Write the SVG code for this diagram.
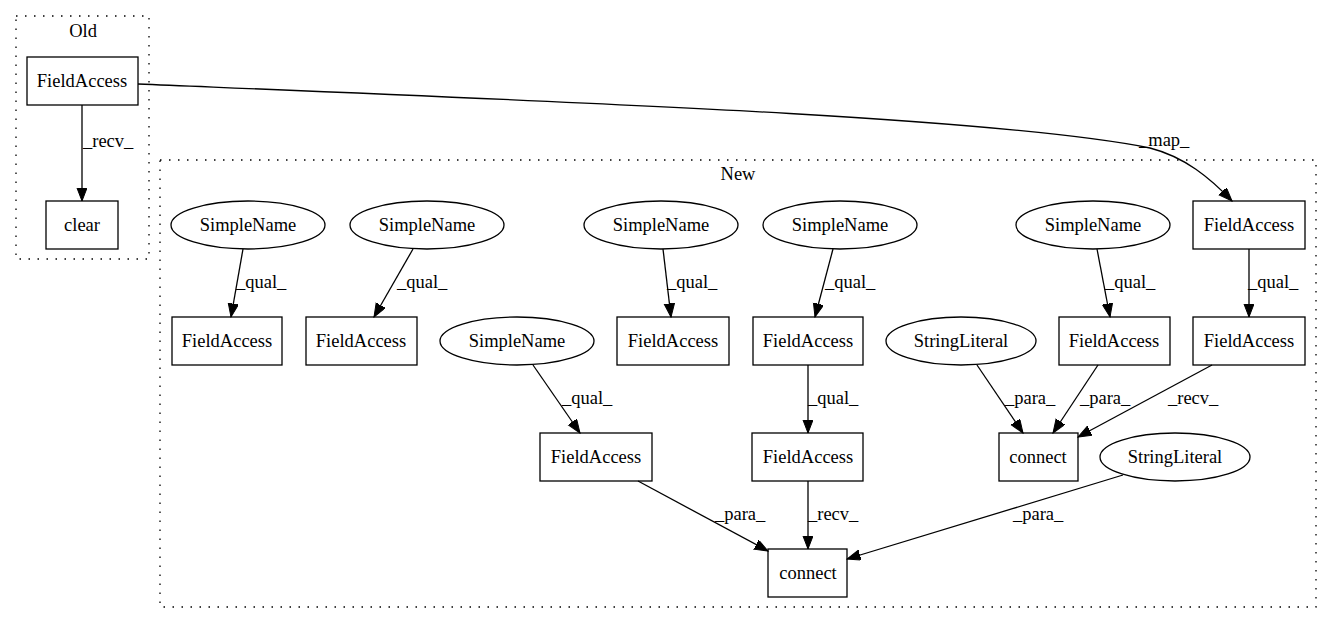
<svg xmlns="http://www.w3.org/2000/svg" width="1332" height="624" viewBox="0 0 1332 624">
<style>
text{font-family:"Liberation Serif","Times New Roman",serif;font-size:18.5px;fill:#000}
.n text{text-anchor:middle}
.n rect,.n ellipse{fill:none;stroke:#000;stroke-width:1.3}
.cl{fill:none;stroke:#000;stroke-width:1.3;stroke-dasharray:1.5,7.5}
.e path{fill:none;stroke:#000;stroke-width:1.3;marker-end:url(#ah)}
.lbl text{text-anchor:start}
</style>
<defs>
<marker id="ah" markerUnits="userSpaceOnUse" markerWidth="15" markerHeight="12" refX="13.5" refY="5.2" orient="auto">
<path d="M0,0 L13.5,5.2 L0,10.4 z" fill="#000" stroke="#000" stroke-width="1"/>
</marker>
</defs>
<rect width="1332" height="624" fill="#fff"/>
<g id="cluster_old">
<rect class="cl" x="16" y="16" width="133" height="243"/>
<text x="83" y="37" text-anchor="middle">Old</text>
</g>
<g id="cluster_new">
<rect class="cl" x="160" y="160" width="1156" height="447"/>
<text x="738" y="180" text-anchor="middle">New</text>
</g>
<g id="edges" class="e">
<path d="M82,105 L82,201"/>
<path d="M138,84 C600,103 1000,118 1150,148 C1185,157 1210,178 1232,201"/>
<path d="M243,249 L231,317"/>
<path d="M413,249 L374,317"/>
<path d="M533,365 L580,433"/>
<path d="M663,249 L671,317"/>
<path d="M833,249 L815,317"/>
<path d="M1097,249 L1110,317"/>
<path d="M1249,249 L1249,317"/>
<path d="M808,365 L808,433"/>
<path d="M638,481 L768,551"/>
<path d="M808,481 L808,549"/>
<path d="M1123,475 L847,559"/>
<path d="M977,365 L1023,433"/>
<path d="M1098,365 L1053,433"/>
<path d="M1212,365 L1078,437"/>
</g>
<g id="edge_labels" class="lbl">
<text x="83" y="147">_recv_</text>
<text x="1139" y="146">_map_</text>
<text x="236" y="288">_qual_</text>
<text x="397" y="288">_qual_</text>
<text x="562" y="404">_qual_</text>
<text x="667" y="288">_qual_</text>
<text x="825" y="288">_qual_</text>
<text x="1105" y="288">_qual_</text>
<text x="1248" y="288">_qual_</text>
<text x="808" y="404">_qual_</text>
<text x="715" y="520">_para_</text>
<text x="808" y="520">_recv_</text>
<text x="1013" y="520">_para_</text>
<text x="1005" y="404">_para_</text>
<text x="1080" y="404">_para_</text>
<text x="1168" y="404">_recv_</text>
</g>
<g id="old_fa" class="n"><rect x="27" y="57" width="111" height="48"/><text x="82" y="87">FieldAccess</text></g>
<g id="old_clear" class="n"><rect x="46" y="201" width="72" height="48"/><text x="82" y="231">clear</text></g>
<g id="sn1" class="n"><ellipse cx="248" cy="225" rx="77" ry="24"/><text x="248" y="231">SimpleName</text></g>
<g id="sn2" class="n"><ellipse cx="427" cy="225" rx="77" ry="24"/><text x="427" y="231">SimpleName</text></g>
<g id="sn4" class="n"><ellipse cx="661" cy="225" rx="77" ry="24"/><text x="661" y="231">SimpleName</text></g>
<g id="sn5" class="n"><ellipse cx="840" cy="225" rx="77" ry="24"/><text x="840" y="231">SimpleName</text></g>
<g id="sn6" class="n"><ellipse cx="1093" cy="225" rx="77" ry="24"/><text x="1093" y="231">SimpleName</text></g>
<g id="fa5" class="n"><rect x="1193" y="201" width="112" height="48"/><text x="1249" y="231">FieldAccess</text></g>
<g id="fa1" class="n"><rect x="172" y="317" width="110" height="48"/><text x="227" y="347">FieldAccess</text></g>
<g id="fa2" class="n"><rect x="306" y="317" width="111" height="48"/><text x="361" y="347">FieldAccess</text></g>
<g id="sn3" class="n"><ellipse cx="517" cy="341" rx="77" ry="24"/><text x="517" y="347">SimpleName</text></g>
<g id="fa3" class="n"><rect x="617" y="317" width="112" height="48"/><text x="673" y="347">FieldAccess</text></g>
<g id="fa4" class="n"><rect x="753" y="317" width="110" height="48"/><text x="808" y="347">FieldAccess</text></g>
<g id="sl1" class="n"><ellipse cx="961" cy="341" rx="75" ry="24"/><text x="961" y="347">StringLiteral</text></g>
<g id="fa6" class="n"><rect x="1059" y="317" width="111" height="48"/><text x="1114" y="347">FieldAccess</text></g>
<g id="fa7" class="n"><rect x="1193" y="317" width="112" height="48"/><text x="1249" y="347">FieldAccess</text></g>
<g id="fa8" class="n"><rect x="540" y="433" width="112" height="48"/><text x="596" y="463">FieldAccess</text></g>
<g id="fa9" class="n"><rect x="752" y="433" width="111" height="48"/><text x="808" y="463">FieldAccess</text></g>
<g id="connect2" class="n"><rect x="999" y="433" width="79" height="48"/><text x="1038" y="463">connect</text></g>
<g id="sl2" class="n"><ellipse cx="1175" cy="457" rx="75" ry="24"/><text x="1175" y="463">StringLiteral</text></g>
<g id="connect1" class="n"><rect x="768" y="549" width="79" height="48"/><text x="808" y="579">connect</text></g>
</svg>
